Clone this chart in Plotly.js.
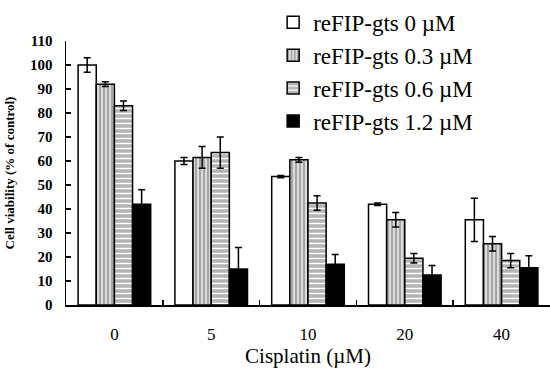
<!DOCTYPE html>
<html><head><meta charset="utf-8">
<script src="https://cdn.plot.ly/plotly-3.0.1.min.js"></script>
<style>html,body{margin:0;padding:0;background:#fff;}</style>
</head><body><div id="chart" style="width:550px;height:370px;"></div>
<script>
var categories = ["0", "5", "10", "20", "40"];
var seriesNames = ["reFIP-gts 0 \u00b5M", "reFIP-gts 0.3 \u00b5M", "reFIP-gts 0.6 \u00b5M", "reFIP-gts 1.2 \u00b5M"];
var v0  = [100, 60, 53.5, 42, 35.5];
var e0  = [3, 1.5, 0.5, 0.5, 9];
var v03 = [92, 61.5, 60.5, 35.5, 25.5];
var e03 = [1, 4.5, 1, 3, 3];
var v06 = [83, 63.5, 42.5, 19.5, 18.5];
var e06 = [2, 6.5, 3, 2, 3];
var v12 = [42, 15, 17, 12.5, 15.5];
var e12 = [6, 9, 4, 4, 5];

var values = [v0, v03, v06, v12];
var errors = [e0, e03, e06, e12];
var markers = [
  {color: "#ffffff", line: {color: "#000", width: 1.5}},
  {color: "#d4d4d4", line: {color: "#000", width: 1.5}, pattern: {shape: "|", bgcolor: "#dcdcdc", fgcolor: "#8c8c8c", size: 4, solidity: 0.35, fillmode: "replace"}},
  {color: "#b8b8b8", line: {color: "#000", width: 1.5}, pattern: {shape: "-", bgcolor: "#b4b4b4", fgcolor: "#ffffff", size: 5, solidity: 0.3, fillmode: "replace"}},
  {color: "#000000", line: {color: "#000", width: 1.5}}
];
var data = values.map(function(v, i){
  return {
    type: "bar", x: categories, y: v, name: seriesNames[i],
    marker: markers[i],
    error_y: {type: "data", array: errors[i], visible: true, color: "#000", thickness: 1.5, width: 3.5}
  };
});
var layout = {
  width: 550, height: 370,
  margin: {l: 66, r: 0, t: 41, b: 65},
  paper_bgcolor: "#fff", plot_bgcolor: "#fff",
  font: {family: "Liberation Serif, Times New Roman, serif", color: "#000"},
  barmode: "group", bargap: 0.25, bargroupgap: 0,
  showlegend: true,
  legend: {x: 0.428, y: 1.152, xanchor: "left", yanchor: "top", font: {size: 23}, tracegroupgap: 0, itemwidth: 30, bgcolor: "rgba(0,0,0,0)"},
  xaxis: {
    type: "category", range: [-0.5, 4.5], showline: true, linecolor: "#000", linewidth: 1.5,
    ticks: "inside", tickson: "boundaries", ticklen: 5, tickwidth: 1.5, tickcolor: "#000",
    tickfont: {size: 17, family: "Liberation Serif"}, ticklabelstandoff: 13, showgrid: false, zeroline: false,
    title: {text: "Cisplatin (\u00b5M)", font: {size: 21}, standoff: 4}
  },
  yaxis: {
    range: [0, 110], dtick: 10, showline: true, linecolor: "#000", linewidth: 1.5,
    ticks: "inside", ticklen: 5, tickwidth: 1.2, tickcolor: "#000",
    tickfont: {size: 15, family: "Liberation Serif", weight: "bold"}, ticklabelstandoff: 9, showgrid: false, zeroline: false,
    title: {text: "<b>Cell viability (% of control)</b>", font: {size: 13}, standoff: 12}
  }
};
Plotly.newPlot("chart", data, layout, {displayModeBar: false, staticPlot: true});
</script></body></html>
